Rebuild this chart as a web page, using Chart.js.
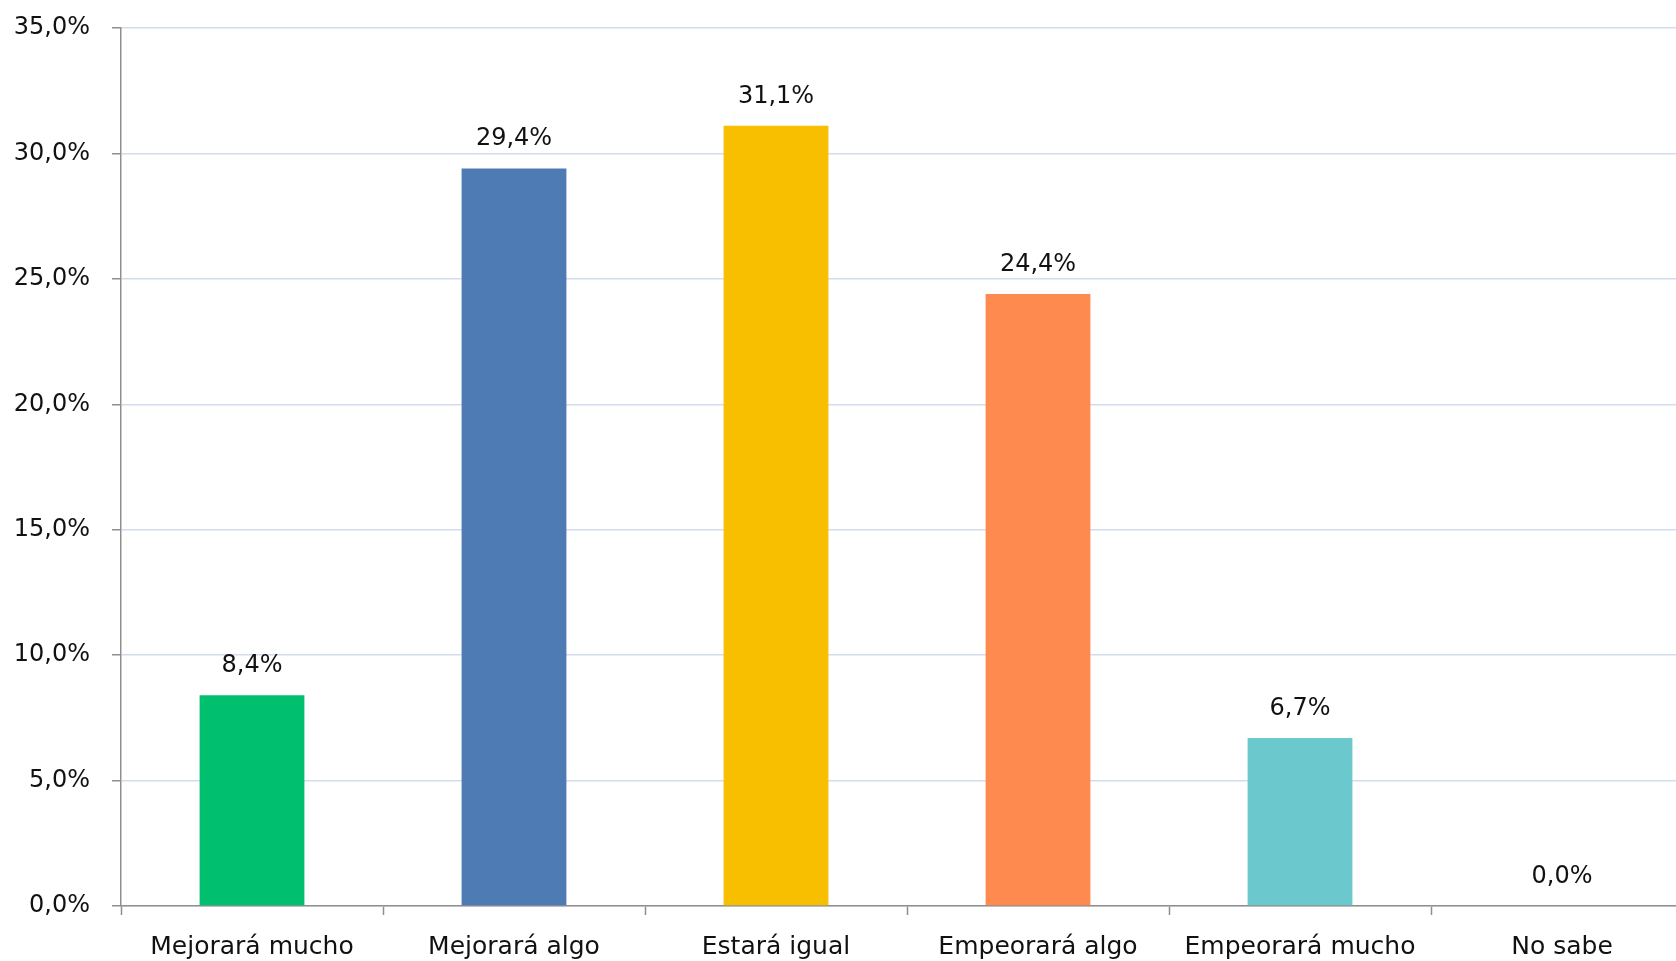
<!DOCTYPE html>
<html>
<head>
<meta charset="utf-8">
<script src="https://cdn.jsdelivr.net/npm/chart.js@4"></script>
<style>
  html, body { margin: 0; padding: 0; background: #fff; overflow: hidden; }
  #wrap { width: 1693px; height: 961px; }
</style>
</head>
<body>
<div id="wrap"><canvas id="barChart"></canvas></div>
<script>
// Data
const categories = ["Mejorará mucho", "Mejorará algo", "Estará igual", "Empeorará algo", "Empeorará mucho", "No sabe"];
const values = [8.4, 29.4, 31.1, 24.4, 6.7, 0.0];
const barColors = ["#00BF6F", "#4E7BB4", "#F8BE00", "#FF8A4F", "#6BC8CC", "#9C9C9C"];
const yTicks = [0, 5, 10, 15, 20, 25, 30, 35];

const FONT = "'DejaVu Sans', Verdana, sans-serif";
const AXIS_GREY = "#8f8f8f";

const fmt = v => v.toFixed(1).replace(".", ",") + "%";

// value labels above each bar
const barLabels = {
    id: "barLabels",
    afterDatasetsDraw(chart) {
        const ctx = chart.ctx;
        const meta = chart.getDatasetMeta(0);
        ctx.save();
        ctx.font = "24px " + FONT;
        ctx.fillStyle = "#111";
        ctx.textAlign = "center";
        ctx.textBaseline = "alphabetic";
        meta.data.forEach((bar, i) => {
            ctx.fillText(fmt(values[i]), bar.x, bar.y - 23);
        });
        ctx.restore();
    }
};

const ctx = document.getElementById("barChart").getContext("2d");
new Chart(ctx, {
    type: "bar",
    data: {
        labels: categories,
        datasets: [{
            data: values,
            backgroundColor: barColors,
            borderWidth: 0,
            barPercentage: 0.4,
            categoryPercentage: 1.0
        }]
    },
    options: {
        responsive: true,
        maintainAspectRatio: false,
        animation: false,
        layout: {padding: {top: 28, right: 0, bottom: 0, left: 0}},
        plugins: {legend: {display: false}, tooltip: {enabled: false}},
        scales: {
            x: {
                grid: {
                    drawOnChartArea: false,
                    drawTicks: true,
                    tickLength: 9,
                    tickColor: AXIS_GREY,
                    tickWidth: 1.5,
                    offset: true
                },
                border: {color: AXIS_GREY, width: 1.5},
                ticks: {
                    color: "#111",
                    font: {family: FONT, size: 25},
                    padding: 17,
                    maxRotation: 0,
                    autoSkip: false
                },
                afterFit: scale => { scale.height = 55; }
            },
            y: {
                min: 0,
                max: 35,
                afterBuildTicks: scale => { scale.ticks = yTicks.map(v => ({value: v})); },
                grid: {
                    color: "#d2dcee",
                    lineWidth: 1.5,
                    tickLength: 9,
                    tickColor: AXIS_GREY,
                    tickWidth: 1.5
                },
                border: {color: AXIS_GREY, width: 1.5},
                ticks: {
                    color: "#111",
                    font: {family: FONT, size: 24},
                    padding: 22,
                    callback: v => fmt(v)
                },
                afterFit: scale => {
                    scale.width = 121;
                    scale.paddingTop = 0;
                    scale.paddingBottom = 0;
                }
            }
        }
    },
    plugins: [barLabels]
});
</script>
</body>
</html>
